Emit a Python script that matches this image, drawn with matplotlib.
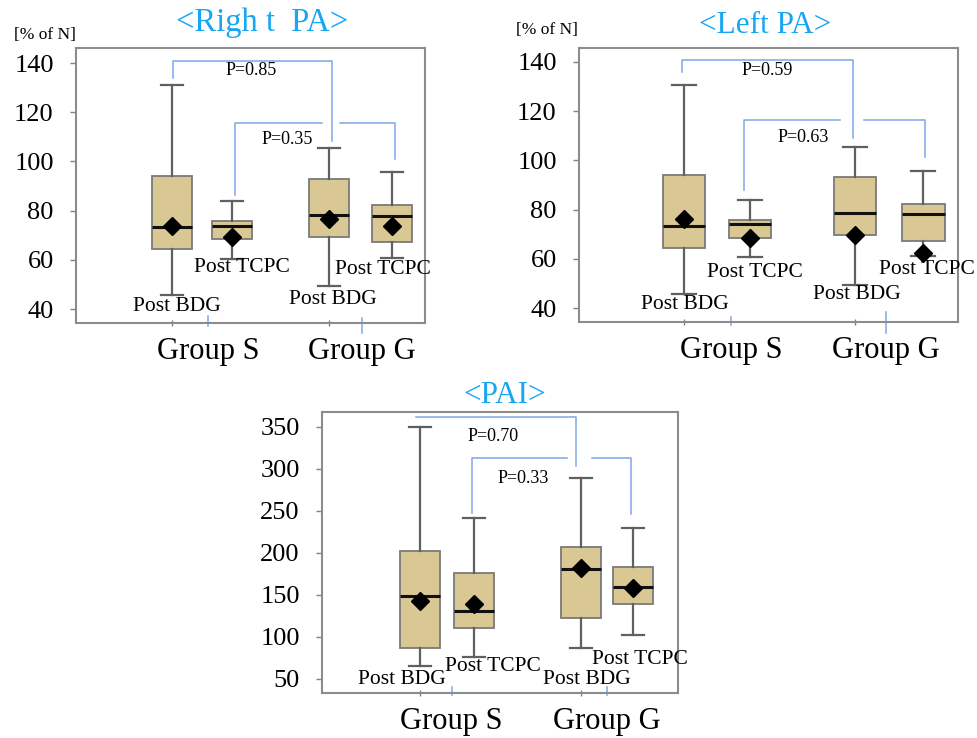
import matplotlib
matplotlib.use("Agg")
import matplotlib.pyplot as plt
import matplotlib.transforms as mtransforms

plt.rcParams["font.family"] = ["Liberation Serif", "DejaVu Serif"]

# box statistics: whislo, q1, median, q3, whishi, mean
# order in every panel: S post BDG, S post TCPC, G post BDG, G post TCPC
BOX_LABELS = ["Post BDG", "Post TCPC", "Post BDG", "Post TCPC"]
GROUPS = ["Group S", "Group G"]

RPA_LO = [45.7, 60.5, 49.2, 60.7]
RPA_Q1 = [64.5, 68.5, 69.1, 67.1]
RPA_MED = [73.2, 73.9, 78.3, 77.9]
RPA_Q3 = [93.9, 75.6, 93.0, 82.1]
RPA_HI = [130.9, 83.9, 105.3, 95.6]
RPA_MEAN = [73.6, 69.3, 76.6, 73.6]
RPA_P = ["P=0.85", "P=0.35"]

LPA_LO = [45.8, 60.7, 49.5, 61.2]
LPA_Q1 = [64.6, 68.5, 69.5, 67.4]
LPA_MED = [73.4, 74.1, 78.8, 78.1]
LPA_Q3 = [94.1, 75.7, 93.1, 82.3]
LPA_HI = [130.7, 83.9, 105.3, 95.7]
LPA_MEAN = [76.2, 68.4, 69.7, 62.3]
LPA_P = ["P=0.59", "P=0.63"]

PAI_LO = [65.5, 76.7, 86.6, 102.1]
PAI_Q1 = [87.0, 110.4, 122.4, 139.4]
PAI_MED = [148.2, 131.5, 181.5, 159.7]
PAI_Q3 = [202.6, 176.0, 206.6, 183.1]
PAI_HI = [350.0, 241.5, 289.2, 229.2]
PAI_MEAN = [142.6, 139.4, 182.7, 157.7]
PAI_P = ["P=0.70", "P=0.33"]

BOX_FC = "#d9c894"
BOX_EC = "#7a7a7a"
WHISK = "#606060"
BRACKET = "#7fa6e6"
TITLE_C = "#16a6f2"


def panel(ax, lo, q1, med, q3, hi, mean, pvals, cfg):
    pos = cfg["pos"]
    w = cfg["width"]
    stats = [dict(whislo=a, q1=b, med=c, q3=d, whishi=e, mean=m, fliers=[])
             for a, b, c, d, e, m in zip(lo, q1, med, q3, hi, mean)]
    ax.bxp(stats, positions=pos, widths=w, capwidths=w * 0.55,
           patch_artist=True, showmeans=True, showfliers=False,
           boxprops=dict(facecolor=BOX_FC, edgecolor=BOX_EC, linewidth=1.3),
           whiskerprops=dict(color=WHISK, linewidth=1.6),
           capprops=dict(color=WHISK, linewidth=1.6),
           medianprops=dict(color="#111111", linewidth=2.2),
           meanprops=dict(marker="D", markerfacecolor="black",
                          markeredgecolor="black", markersize=9))
    ax.set_xlim(*cfg["xlim"])
    ax.set_ylim(*cfg["ylim"])
    ax.set_yticks(cfg["yticks"])
    ax.set_yticklabels([str(t) for t in cfg["yticks"]])
    ax.set_xticks([pos[0], pos[2]])
    ax.set_xticklabels(["", ""])
    ax.tick_params(axis="y", direction="out", length=4, width=1,
                   color="#808080", labelsize=19, pad=12)
    ax.tick_params(axis="x", direction="inout", length=5, width=1,
                   color="#808080")
    for s in ax.spines.values():
        s.set_color("#8c8c8c")
        s.set_linewidth(1.5)

    # significance brackets
    (ox0, oy0, oy1, ox1, oy2), (ix0, iy0, iy1, gap0, gap1, ix1, iy2) = cfg["brackets"]
    if oy0 is None:
        ax.plot([ox0, ox1, ox1], [oy1, oy1, oy2], color=BRACKET, lw=1.1)
    else:
        ax.plot([ox0, ox0, ox1, ox1], [oy0, oy1, oy1, oy2], color=BRACKET, lw=1.1)
    ax.plot([ix0, ix0, gap0], [iy0, iy1, iy1], color=BRACKET, lw=1.1)
    ax.plot([gap1, ix1, ix1], [iy1, iy1, iy2], color=BRACKET, lw=1.1)
    for txt, (tx, ty) in zip(pvals, cfg["ptext"]):
        ax.text(tx, ty, txt, fontsize=13, ha="center", va="center")

    for txt, (lx, ly) in zip(BOX_LABELS, cfg["labels"]):
        ax.text(lx, ly, txt, fontsize=15.5, ha="center", va="center")

    trans = mtransforms.blended_transform_factory(ax.transData, ax.transAxes)
    for g, gx, (m0, m1) in zip(GROUPS, cfg["group_x"], cfg["marks"]):
        ax.text(gx, cfg["group_y"], g, fontsize=22, ha="center", va="center",
                transform=trans)
        ax.plot([gx, gx], [m0, m1], color=BRACKET, lw=1.1, transform=trans,
                clip_on=False)

    ax.text(cfg["title_xy"][0], cfg["title_xy"][1], cfg["title"], color=TITLE_C,
            fontsize=cfg.get("title_size", 22.5), ha="center", va="center",
            transform=ax.transAxes)
    if cfg.get("unit"):
        ax.text(cfg["unit"][0], cfg["unit"][1], "[% of N]", fontsize=12.5,
                ha="center", va="center", transform=ax.transAxes)


fig = plt.figure(figsize=(9.77, 7.38), dpi=100)
ax1 = fig.add_axes([0.0778, 0.5623, 0.357, 0.3726])
ax2 = fig.add_axes([0.5926, 0.5637, 0.388, 0.3713])
ax3 = fig.add_axes([0.3296, 0.0610, 0.3644, 0.3808])

panel(ax1, RPA_LO, RPA_Q1, RPA_MED, RPA_Q3, RPA_HI, RPA_MEAN, RPA_P, dict(
    pos=[1, 2, 3.62, 4.67], width=0.67, xlim=(-0.6, 5.22), ylim=(34.3, 146.1),
    yticks=[40, 60, 80, 100, 120, 140],
    brackets=((1.02, 133.9, 140.7, 3.67, 108.2),
              (2.06, 86.5, 115.6, 3.51, 3.81, 4.73, 101.0)),
    ptext=[(2.33, 137.0), (2.92, 108.8)],
    labels=[(1.08, 41.1), (2.17, 56.7), (3.68, 43.8), (4.52, 56.0)],
    group_x=[1.6, 4.17], group_y=-0.105, marks=[(0.025, -0.011), (0.018, -0.036)],
    title="<Righ t  PA>", title_size=23.5, title_xy=(0.533, 1.092),
    unit=(-0.089, 1.047)))

panel(ax2, LPA_LO, LPA_Q1, LPA_MED, LPA_Q3, LPA_HI, LPA_MEAN, LPA_P, dict(
    pos=[1, 2, 3.59, 4.62], width=0.65, xlim=(-0.59, 5.15), ylim=(34.4, 145.6),
    yticks=[40, 60, 80, 100, 120, 140],
    brackets=((0.97, 136.0, 140.9, 3.56, 108.9),
              (1.91, 88.0, 116.4, 3.36, 3.73, 4.65, 101.5)),
    ptext=[(2.26, 136.4), (2.80, 109.3)],
    labels=[(1.02, 41.4), (2.08, 54.5), (3.62, 45.4), (4.68, 55.8)],
    group_x=[1.71, 4.06], group_y=-0.103, marks=[(0.018, -0.011), (0.036, -0.04)],
    title="<Left PA>", title_xy=(0.49, 1.082), unit=(-0.084, 1.066)))

panel(ax3, PAI_LO, PAI_Q1, PAI_MED, PAI_Q3, PAI_HI, PAI_MEAN, PAI_P, dict(
    pos=[1, 2, 3.98, 4.94], width=0.74, xlim=(-0.81, 5.78), ylim=(33.3, 367.9),
    yticks=[50, 100, 150, 200, 250, 300, 350],
    brackets=((0.93, None, 361.9, 3.89, 303.0),
              (1.96, 247.5, 313.0, 3.72, 4.19, 4.91, 246.7)),
    ptext=[(2.35, 338.9), (2.91, 288.4)],
    labels=[(0.67, 48.9), (2.35, 64.7), (4.09, 48.9), (5.07, 73.5)],
    group_x=[1.59, 4.46], group_y=-0.103, marks=[(0.021, -0.007), (0.021, -0.007)],
    title="<PAI>", title_xy=(0.514, 1.058)))

fig.savefig("out.png", dpi=100)
